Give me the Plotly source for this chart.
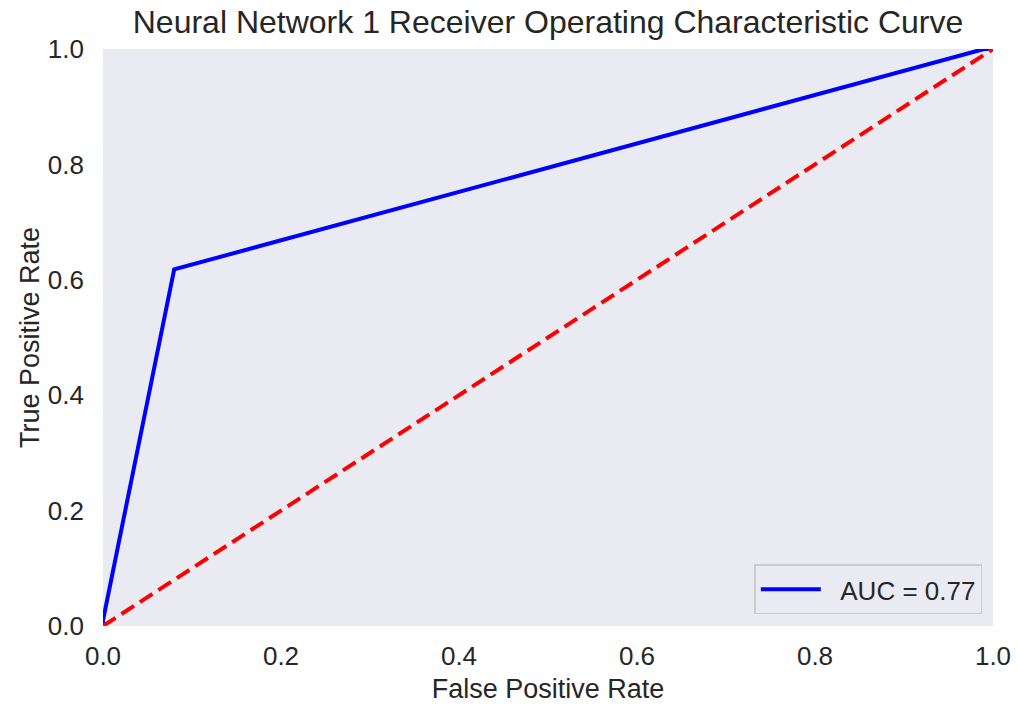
import plotly.graph_objects as go

# ROC curve points for the first neural network
fpr = [0.0, 0.0, 0.08, 0.99, 1.0]
tpr = [0.0, 0.01, 0.618, 1.0, 1.0]
auc_label = "AUC = 0.77"

# chance diagonal
chance_x = [0.0, 1.0]
chance_y = [0.0, 1.0]

tick_vals = [0.0, 0.2, 0.4, 0.6, 0.8, 1.0]
tick_text = ["0.0", "0.2", "0.4", "0.6", "0.8", "1.0"]

FONT = "Liberation Sans, Arial, Helvetica, sans-serif"
INK = "#262626"

fig = go.Figure()
fig.add_trace(go.Scatter(
    x=fpr, y=tpr, mode="lines", name="\u00a0\u00a0" + auc_label,
    line=dict(color="#0000ff", width=4),
))
fig.add_trace(go.Scatter(
    x=chance_x, y=chance_y, mode="lines", showlegend=False,
    line=dict(color="#ff0000", width=4, dash="15px,7px"),
))

fig.update_layout(
    width=1018, height=704,
    margin=dict(l=103, r=25, t=49, b=78),
    paper_bgcolor="white",
    plot_bgcolor="#EAEAF2",
    font=dict(family=FONT, color=INK, size=26),
    title=dict(
        text="Neural Network 1 Receiver Operating Characteristic Curve",
        x=0.5, xref="paper", xanchor="center",
        y=0.969, yref="container", yanchor="middle",
        font=dict(size=32, color=INK, family=FONT),
    ),
    xaxis=dict(
        range=[0, 1], tickvals=tick_vals, ticktext=tick_text,
        showgrid=False, zeroline=False, showline=False, automargin=False,
        ticks="", ticklen=0, ticklabelstandoff=12,
        tickfont=dict(size=26, color=INK),
        title=dict(text="False Positive Rate", font=dict(size=27, color=INK)),
    ),
    yaxis=dict(
        range=[0, 1], tickvals=tick_vals, ticktext=tick_text,
        showgrid=False, zeroline=False, showline=False, automargin=True,
        ticks="", ticklen=0, ticklabelstandoff=18,
        tickfont=dict(size=26, color=INK),
        title=dict(text="True Positive Rate", font=dict(size=27, color=INK), standoff=0),
    ),
    legend=dict(
        x=0.988, y=0.02, xanchor="right", yanchor="bottom",
        bgcolor="rgba(234,234,242,0.8)",
        bordercolor="#cccccc", borderwidth=1.5,
        font=dict(size=26, color=INK),
        itemwidth=60,
    ),
)

fig.write_html("out.html")
